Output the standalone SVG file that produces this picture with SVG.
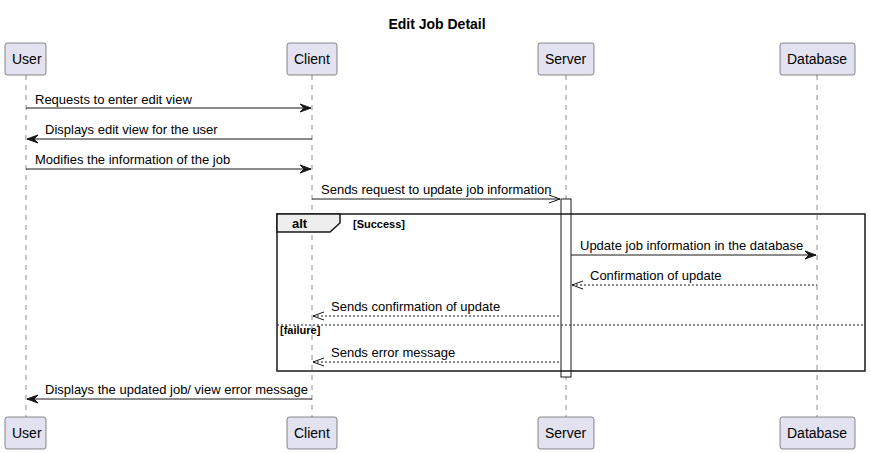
<svg xmlns="http://www.w3.org/2000/svg" width="871" height="453" viewBox="0 0 871 453">
<style>
text{font-family:"Liberation Sans",Arial,sans-serif;fill:#000}
.msg{font-size:13px}
.p rect{fill:#E2E2F0;stroke:#181818;stroke-width:0.5}
.p text{font-size:14px}
.life{stroke:#181818;stroke-width:0.5;stroke-dasharray:5,5}
.ln{stroke:#181818;stroke-width:1;fill:none}
.dash{stroke:#181818;stroke-width:1;stroke-dasharray:2,2;fill:none}
.head{fill:#181818;stroke:#181818;stroke-width:1}
</style>
<rect width="871" height="453" fill="#FFFFFF"/>
<text x="437" y="29" text-anchor="middle" style="font-size:14px;font-weight:bold">Edit Job Detail</text>
<g id="lifelines">
<line class="life" x1="26" y1="75" x2="26" y2="417"/>
<line class="life" x1="312" y1="75" x2="312" y2="417"/>
<line class="life" x1="566" y1="75" x2="566" y2="417"/>
<line class="life" x1="817" y1="75" x2="817" y2="417"/>
</g>
<g id="activation"><rect x="561" y="199" width="10" height="178" fill="#FFFFFF" stroke="#181818" stroke-width="1"/></g>
<g id="alt-frame">
<rect x="277" y="214" width="588" height="157" fill="none" stroke="#181818" stroke-width="1.5"/>
<polygon points="277,214 340,214 340,223 330,232 277,232" fill="#EEEEEE" stroke="#181818" stroke-width="1.5"/>
<text x="292" y="228" style="font-size:13px;font-weight:bold">alt</text>
<text x="353" y="228" style="font-size:11px;font-weight:bold">[Success]</text>
<line x1="277" y1="325" x2="865" y2="325" stroke="#181818" stroke-width="1" stroke-dasharray="2,2"/>
<text x="280" y="334" style="font-size:11px;font-weight:bold">[failure]</text>
</g>
<g id="User"><g class="p"><rect x="5" y="43" width="41" height="32" rx="2.5"/><text x="12" y="64">User</text></g><g class="p"><rect x="5" y="417" width="41" height="32" rx="2.5"/><text x="12" y="438">User</text></g></g>
<g id="Client"><g class="p"><rect x="287" y="43" width="50" height="32" rx="2.5"/><text x="294" y="64">Client</text></g><g class="p"><rect x="287" y="417" width="50" height="32" rx="2.5"/><text x="294" y="438">Client</text></g></g>
<g id="Server"><g class="p"><rect x="538" y="43" width="56" height="32" rx="2.5"/><text x="545" y="64">Server</text></g><g class="p"><rect x="538" y="417" width="56" height="32" rx="2.5"/><text x="545" y="438">Server</text></g></g>
<g id="Database"><g class="p"><rect x="780" y="43" width="75" height="32" rx="2.5"/><text x="787" y="64">Database</text></g><g class="p"><rect x="780" y="417" width="75" height="32" rx="2.5"/><text x="787" y="438">Database</text></g></g>
<g id="connectors">
<line class="ln" x1="26" y1="108" x2="311" y2="108"/><polygon class="head" points="300,104 311,108 300,112 304,108"/>
<text class="msg" x="35" y="104">Requests to enter edit view</text>
<line class="ln" x1="27" y1="139" x2="312" y2="139"/><polygon class="head" points="38,135 27,139 38,143 34,139"/>
<text class="msg" x="45" y="134">Displays edit view for the user</text>
<line class="ln" x1="26" y1="169" x2="311" y2="169"/><polygon class="head" points="300,165 311,169 300,173 304,169"/>
<text class="msg" x="35" y="164">Modifies the information of the job</text>
<line class="ln" x1="312" y1="199" x2="560" y2="199"/><polyline class="ln" points="549,195 560,199 549,203"/>
<text class="msg" x="321" y="194">Sends request to update job information</text>
<line class="ln" x1="571" y1="255" x2="816" y2="255"/><polygon class="head" points="805,251 816,255 805,259 809,255"/>
<text class="msg" x="580" y="250">Update job information in the database</text>
<line class="dash" x1="572" y1="285" x2="817" y2="285"/><polyline class="ln" points="583,281 572,285 583,289"/>
<text class="msg" x="590" y="280">Confirmation of update</text>
<line class="dash" x1="313" y1="316" x2="561" y2="316"/><polyline class="ln" points="324,312 313,316 324,320"/>
<text class="msg" x="331" y="311">Sends confirmation of update</text>
<line class="dash" x1="313" y1="362" x2="561" y2="362"/><polyline class="ln" points="324,358 313,362 324,366"/>
<text class="msg" x="331" y="357">Sends error message</text>
<line class="ln" x1="27" y1="399" x2="312" y2="399"/><polygon class="head" points="38,395 27,399 38,403 34,399"/>
<text class="msg" x="45" y="394">Displays the updated job/ view error message</text>
</g>
</svg>
